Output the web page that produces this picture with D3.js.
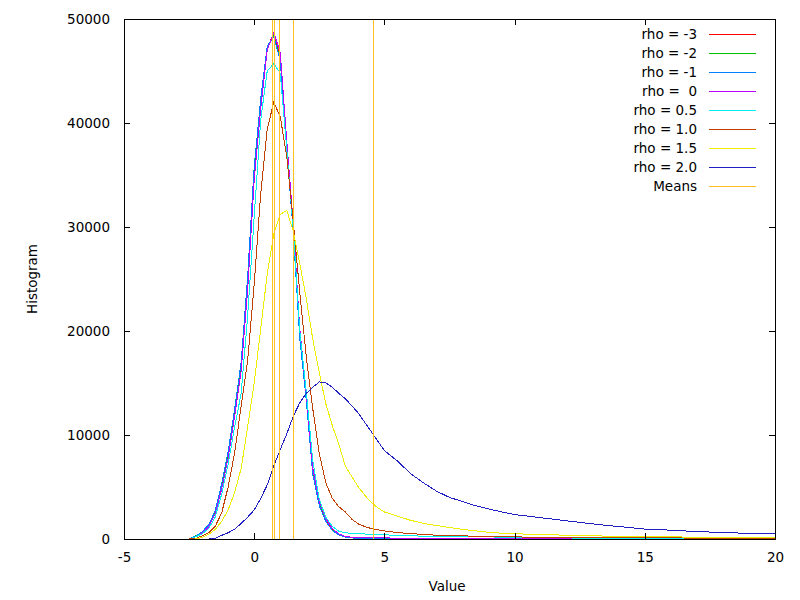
<!DOCTYPE html>
<html>
<head>
<meta charset="utf-8">
<script src="https://cdn.jsdelivr.net/npm/d3@7"></script>
<style>
  body { margin: 0; background: #fff; }
  svg { font-family: "DejaVu Sans", sans-serif; }
  .tick text { font-size: 13.5px; fill: #000; }
  .lbl { font-size: 13.5px; fill: #000; }
</style>
</head>
<body>
<div id="chart"></div>
<script>
// histogram bin centres (shared by every series)
var bins = [-2.5, -2.25, -2, -1.75, -1.5, -1.25, -1, -0.75, -0.5, -0.25,
    0, 0.25, 0.5, 0.75, 1, 1.25, 1.5, 1.75, 2, 2.25,
    2.5, 2.75, 3, 3.25, 3.5, 3.75, 4, 4.25, 4.5, 4.75,
    5, 5.5, 6, 6.5, 7, 7.5, 8, 8.5, 9, 9.5,
    10, 10.5, 11, 11.5, 12, 12.5, 13, 13.5, 14, 14.5,
    15, 15.5, 16, 16.5, 17, 17.5, 18, 18.5, 19, 19.5, 20];

var rho_m3 = [0, 250, 600, 1200, 2500, 5000, 8000, 12000, 16500, 24500,
    35000, 41700, 47200, 48600, 46500, 37800, 30000, 19800, 13500, 6500,
    3400, 1800, 900, 450, 200, 120, 100, 80, 70, 60,
    50, 40, 30, 20, 20, 15, 15, 10, 10, 10,
    10, 10, 10, 10, 10, 10, 10, 10, 10, 10,
    10, 10, 10, 10, 10, 10, 10, 10, 10, 10, 10];
var rho_m2 = [0, 300, 650, 1300, 2600, 5200, 8200, 12300, 16800, 25000,
    35500, 42000, 47300, 48400, 46200, 37600, 29700, 19500, 13400, 6300,
    3300, 1700, 850, 420, 180, 110, 90, 70, 60, 50,
    40, 35, 30, 20, 15, 15, 10, 10, 10, 10,
    10, 5, 5, 5, 5, 5, 5, 5, 5, 5,
    5, 5, 5, 5, 5, 5, 5, 5, 5, 5, 5];
var rho_m1 = [0, 280, 700, 1350, 2700, 5300, 8400, 12500, 17000, 25300,
    35800, 42300, 47400, 48300, 46000, 37400, 29500, 19300, 13300, 6200,
    3200, 1700, 820, 400, 170, 100, 80, 60, 50, 40,
    30, 30, 20, 20, 15, 10, 10, 10, 10, 10,
    5, 5, 5, 5, 5, 5, 5, 5, 5, 5,
    5, 5, 5, 5, 5, 5, 5, 5, 5, 5, 5];
var rho_0 = [0, 220, 560, 1150, 2400, 4800, 7800, 11800, 16200, 24000,
    34500, 41400, 47000, 48700, 46800, 38300, 30300, 20200, 14000, 6800,
    3600, 1950, 1000, 500, 250, 160, 140, 130, 120, 110,
    100, 90, 70, 40, 30, 20, 20, 15, 15, 10,
    10, 10, 10, 10, 10, 10, 10, 10, 10, 10,
    10, 10, 10, 10, 10, 10, 10, 10, 10, 10, 10];
var rho_05 = [0, 200, 500, 1000, 2100, 4300, 7200, 10800, 14000, 21500,
    31000, 40300, 45000, 45700, 44800, 37500, 29800, 20000, 14200, 7500,
    3800, 2100, 1200, 750, 600, 550, 500, 480, 450, 420,
    400, 350, 300, 280, 250, 240, 220, 210, 200, 180,
    150, 130, 120, 110, 100, 90, 90, 80, 80, 70,
    70, 60, 60, 60, 50, 50, 50, 50, 50, 50, 50];
var rho_10 = [0, 50, 300, 600, 1200, 2500, 5000, 8300, 12800, 17200,
    24500, 33200, 39400, 42000, 40600, 36800, 30500, 23700, 17500, 12500,
    8200, 5400, 3900, 3100, 2600, 1900, 1450, 1200, 1000, 880,
    780, 620, 520, 440, 360, 330, 300, 270, 240, 220,
    200, 185, 170, 160, 150, 140, 135, 130, 120, 115,
    110, 105, 100, 95, 90, 85, 80, 78, 75, 72, 70];
var rho_15 = [0, 0, 150, 450, 900, 1700, 2800, 4500, 6800, 10800,
    15000, 20200, 25500, 29300, 31200, 31600, 29600, 26500, 23100, 19200,
    16000, 13000, 10900, 9100, 7000, 6000, 5000, 4200, 3500, 3000,
    2600, 2200, 1800, 1500, 1300, 1100, 920, 780, 650, 560,
    500, 470, 430, 400, 360, 330, 310, 280, 260, 240,
    220, 210, 200, 190, 180, 170, 160, 150, 140, 135, 130];
var rho_20 = [0, 0, 0, 0, 50, 350, 600, 950, 1500, 2100,
    2800, 3900, 5200, 7000, 8600, 10100, 11800, 13100, 14000, 14600,
    15100, 15000, 14600, 14000, 13500, 12800, 12100, 11200, 10300, 9400,
    8500, 7500, 6300, 5400, 4600, 4000, 3600, 3200, 2900, 2600,
    2350, 2200, 2050, 1900, 1750, 1600, 1450, 1320, 1200, 1080,
    950, 900, 850, 780, 720, 670, 620, 580, 550, 510, 480];

var series_names = ["rho = -3", "rho = -2", "rho = -1", "rho =  0",
    "rho = 0.5", "rho = 1.0", "rho = 1.5", "rho = 2.0"];
var series_values = [rho_m3, rho_m2, rho_m1, rho_0, rho_05, rho_10, rho_15, rho_20];
var series_colors = ["#ff0000", "#00c000", "#0080ff", "#c000ff",
    "#00eeee", "#c04000", "#eeee00", "#2020c0"];
var means = [0.69, 0.69, 0.70, 0.77, 0.77, 0.96, 1.50, 4.57];
var means_color = "#ffc020";

var x_ticks = [-5, 0, 5, 10, 15, 20];
var y_ticks = [0, 10000, 20000, 30000, 40000, 50000];

var width = 800, height = 600;
var left = 124, right = 775, top_edge = 19, bottom = 539;

var svg = d3.select("#chart").append("svg")
    .attr("width", width)
    .attr("height", height);

var x = d3.scaleLinear().domain([-5, 20]).range([left, right]);
var y = d3.scaleLinear().domain([0, 50000]).range([bottom, top_edge]);

// clip so nothing leaks past the frame
svg.append("clipPath").attr("id", "plot_clip")
    .append("rect")
    .attr("x", left).attr("y", top_edge)
    .attr("width", right - left).attr("height", bottom - top_edge);

var plot = svg.append("g").attr("clip-path", "url(#plot_clip)");

var line = d3.line()
    .x(function (d, i) { return x(bins[i]); })
    .y(function (d) { return y(d); });

// gnuplot png output is not antialiased, so keep the lines crisp
series_values.forEach(function (vals, i) {
    plot.append("path")
        .datum(vals)
        .attr("d", line)
        .attr("shape-rendering", "crispEdges")
        .style("fill", "none")
        .style("stroke", series_colors[i])
        .style("stroke-width", 1);
});

// one vertical line per mean, drawn last like gnuplot does
plot.selectAll("line.mean")
    .data(means).join("line")
    .attr("class", "mean")
    .attr("x1", function (d) { return Math.round(x(d)) + 0.5; })
    .attr("x2", function (d) { return Math.round(x(d)) + 0.5; })
    .attr("y1", y(0))
    .attr("y2", y(50000))
    .attr("shape-rendering", "crispEdges")
    .style("stroke", means_color)
    .style("stroke-width", 1);

// axes, ticks pointing inward and mirrored
function style_axis(g) {
    g.selectAll("path, line").style("stroke", "#000").attr("shape-rendering", "crispEdges");
}
var plain = function (d) { return "" + d; };   // hyphen, not unicode minus

svg.append("g")
    .attr("transform", "translate(0," + bottom + ")")
    .call(d3.axisBottom(x).tickValues(x_ticks).tickFormat(plain).tickSizeInner(-6).tickSizeOuter(0).tickPadding(13))
    .call(style_axis);
svg.append("g")
    .attr("transform", "translate(" + left + ",0)")
    .call(d3.axisLeft(y).tickValues(y_ticks).tickFormat(plain).tickSizeInner(-6).tickSizeOuter(0).tickPadding(14))
    .call(style_axis);
svg.append("g")
    .attr("transform", "translate(0," + top_edge + ")")
    .call(d3.axisTop(x).tickValues(x_ticks).tickFormat("").tickSizeInner(-6).tickSizeOuter(0))
    .call(style_axis);
svg.append("g")
    .attr("transform", "translate(" + right + ",0)")
    .call(d3.axisRight(y).tickValues(y_ticks).tickFormat("").tickSizeInner(-6).tickSizeOuter(0))
    .call(style_axis);
svg.selectAll(".tick text").style("font-family", "DejaVu Sans");

// axis titles
svg.append("text")
    .attr("class", "lbl")
    .attr("transform", "translate(32,279) rotate(-90)")
    .attr("text-anchor", "middle")
    .attr("dy", "0.35em")
    .text("Histogram");
svg.append("text")
    .attr("class", "lbl")
    .attr("x", 447).attr("y", 586)
    .attr("text-anchor", "middle")
    .attr("dy", "0.35em")
    .text("Value");

// key
var key_names = series_names.concat(["Means"]);
var key_colors = series_colors.concat([means_color]);
var key = svg.append("g");
key_names.forEach(function (name, i) {
    var ky = 34 + i * 19;
    key.append("text")
        .attr("class", "lbl")
        .attr("x", 697).attr("y", ky)
        .attr("dy", "0.35em")
        .attr("text-anchor", "end")
        .style("white-space", "pre")
        .text(name);
    key.append("line")
        .attr("x1", 709).attr("x2", 756)
        .attr("y1", ky + 0.5).attr("y2", ky + 0.5)
        .attr("shape-rendering", "crispEdges")
        .style("stroke", key_colors[i])
        .style("stroke-width", 1);
});
</script>
</body>
</html>
